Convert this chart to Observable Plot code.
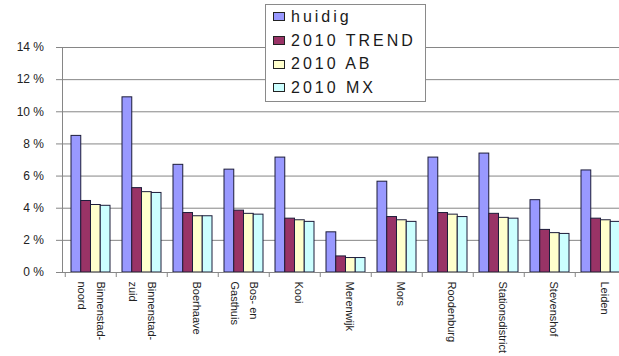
<!DOCTYPE html>
<html>
<head>
<meta charset="utf-8">
<script src="https://cdn.jsdelivr.net/npm/d3@7"></script>
<script src="https://cdn.jsdelivr.net/npm/@observablehq/plot@0.6"></script>
<style>
  html, body { margin: 0; padding: 0; background: #fff; overflow: hidden; }
  #wrap { position: relative; width: 619px; height: 356px; }
  #legend {
    position: absolute; left: 265px; top: 4px; width: 161px;
    border: 1px solid #8a8a8a; background: #fff;
    font-family: "Liberation Sans", Arial, sans-serif; font-size: 16px;
    letter-spacing: 3px; color: #1a1a1a; padding: 0 0 1px 7px; box-sizing: border-box;
  }
  #legend .row { height: 23.7px; display: flex; align-items: center; white-space: nowrap; }
  #legend .sw { width: 10px; height: 7px; border: 1px solid #222; margin-right: 6px; flex: none; }
</style>
</head>
<body>
<div id="wrap"><div id="chart"></div><div id="legend"></div></div>
<script>
// ---- data ----
const categories = ["Binnenstad-noord", "Binnenstad-zuid", "Boerhaave", "Bos- en Gasthuis", "Kooi", "Merenwijk", "Mors", "Roodenburg", "Stationsdistrict", "Stevenshof", "Leiden"];
const categoryLabels = ["Binnenstad-\nnoord", "Binnenstad-\nzuid", "Boerhaave", "Bos- en\nGasthuis", "Kooi", "Merenwijk", "Mors", "Roodenburg", "Stationsdistrict", "Stevenshof", "Leiden"];
const seriesNames = ["huidig", "2010 TREND", "2010 AB", "2010 MX"];
const huidig    = [8.5, 10.9, 6.7, 6.4, 7.15, 2.5, 5.65, 7.15, 7.4, 4.5, 6.35];
const trend2010 = [4.45, 5.25, 3.7, 3.85, 3.35, 1.0, 3.45, 3.7, 3.65, 2.65, 3.35];
const ab2010    = [4.2, 5.0, 3.5, 3.65, 3.25, 0.9, 3.25, 3.6, 3.4, 2.45, 3.25];
const mx2010    = [4.15, 4.95, 3.5, 3.6, 3.15, 0.9, 3.15, 3.45, 3.35, 2.4, 3.15];
const yTicks = [0, 2, 4, 6, 8, 10, 12, 14];
const seriesColors = ["#9999ff", "#993366", "#ffffcc", "#ccffff"];

// ---- table ----
const seriesValues = [huidig, trend2010, ab2010, mx2010];
const data = [];
seriesNames.forEach((s, si) => categories.forEach((c, ci) => data.push({category: c, series: s, value: seriesValues[si][ci]})));
const labelParts = categories.map((c, i) => ({category: c, lines: categoryLabels[i].split("\n")}));
const singleLabels = labelParts.filter(d => d.lines.length === 1);
const doubleLabels = labelParts.filter(d => d.lines.length === 2);

// ---- layout ----
const left = 62, right = 628.5, padIn = 0.243;
const step = (right - left) / categories.length;
const bw = step * (1 - padIn) / seriesNames.length;
const grey = "#868686";
const labelStyle = {x: "category", frameAnchor: "bottom", rotate: 90, textAnchor: "start", dy: 9, fontSize: 11, fill: "#222"};

const chart = Plot.plot({
  width: 619, height: 356,
  marginLeft: left, marginRight: 0, marginTop: 47, marginBottom: 84,
  x: {domain: categories, range: [left, right], paddingInner: padIn, paddingOuter: padIn / 2, axis: null},
  y: {domain: [0, 14], axis: null},
  color: {domain: seriesNames, range: seriesColors},
  style: {fontFamily: "Liberation Sans, Arial, sans-serif", background: "#fff"},
  marks: [
    Plot.ruleY(yTicks.filter(d => d > 0), {stroke: grey, strokeOpacity: 1}),
    Plot.frame({anchor: "left", stroke: grey}),
    Plot.axisY({ticks: yTicks, tickSize: 6, tickPadding: 12.5, tickFormat: d => d + " %", label: null, fontSize: 12, stroke: grey, fill: "#222"}),
    ...seriesNames.map((s, i) => Plot.barY(data.filter(d => d.series === s), {
      x: "category", y: "value", fill: "series", stroke: "#1c1c3a", strokeWidth: 1,
      insetLeft: i * bw, insetRight: (seriesNames.length - 1 - i) * bw
    })),
    Plot.ruleY([0], {stroke: grey}),
    Plot.ruleX(categories, {x: d => d, y1: 0, y2: 0, insetBottom: -5, dx: -step / 2, stroke: grey}),
    Plot.text(singleLabels, {...labelStyle, text: d => d.lines[0], dx: 0}),
    Plot.text(doubleLabels, {...labelStyle, text: d => d.lines[0], dx: 5.5}),
    Plot.text(doubleLabels, {...labelStyle, text: d => d.lines[1], dx: -13})
  ]
});
document.getElementById("chart").appendChild(chart);

const legend = document.getElementById("legend");
seriesNames.forEach((s, i) => {
  const row = document.createElement("div");
  row.className = "row";
  const sw = document.createElement("span");
  sw.className = "sw";
  sw.style.background = seriesColors[i];
  row.appendChild(sw);
  row.appendChild(document.createTextNode(s));
  legend.appendChild(row);
});
</script>
</body>
</html>
